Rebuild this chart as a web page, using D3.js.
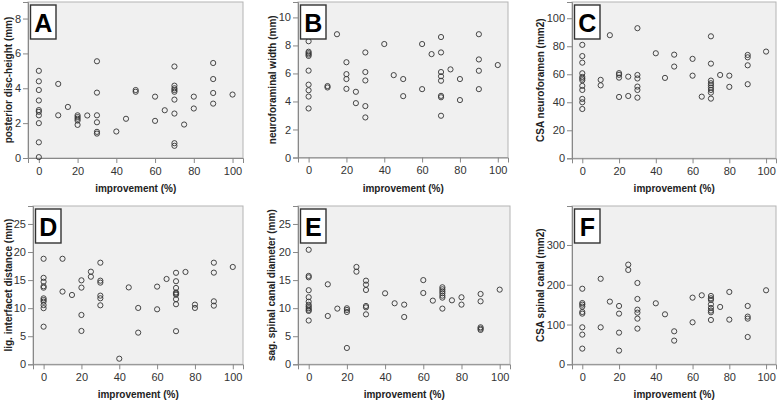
<!DOCTYPE html>
<html>
<head>
<meta charset="utf-8">
<script src="https://cdn.jsdelivr.net/npm/d3@7"></script>
<style>
  html, body { margin: 0; padding: 0; background: #fff; }
  svg { display: block; font-family: "Liberation Sans", Arial, sans-serif; }
</style>
</head>
<body>
<svg id="chart" width="778" height="402"></svg>
<script>
// ---------- data (improvement %, measured value) ----------
const improvementTicks = [0, 20, 40, 60, 80, 100];

const discHeightX = [0,0,0,0,0,0,0,0,0,0, 10,10, 15, 20,20,20,20,20, 25, 30,30,30,30,30,30, 40, 45, 50,50, 60,60, 65, 70,70,70,70,70,70,70,70,70, 75, 80,80, 90,90,90,90, 100];
const discHeightY = [5.0,4.4,3.9,3.3,2.75,2.65,2.45,2.0,0.9,0.05, 4.25,2.45, 2.93, 2.45,2.35,2.25,2.15,1.9, 2.44, 5.55,3.75,2.45,2.05,1.5,1.4, 1.52, 2.25, 3.9,3.8, 3.52,2.13, 2.74, 5.25,4.15,4.0,3.9,3.8,3.35,2.55,0.85,0.7, 1.92, 3.52,2.84, 5.45,4.53,3.73,3.12, 3.64];

const foramWidthX = [0,0,0,0,0,0,0,0,0,0, 10,10, 15, 20,20,20,20, 25,25, 30,30,30,30,30, 40, 45, 50,50, 60,60, 65, 70,70,70,70,70,70,70,70, 75, 80,80, 90,90,90,90, 100];
const foramWidthY = [8.3,7.55,7.45,7.35,7.25,6.2,5.2,4.8,4.35,3.5, 5.1,5.0, 8.8, 6.8,5.95,5.6,4.9, 4.69,3.88, 7.5,6.1,5.5,3.67,2.86, 8.1, 5.88, 5.6,4.38, 8.1,4.88, 7.38, 8.6,7.5,6.1,5.8,5.48,4.4,4.3,2.98, 6.29, 5.6,4.1, 8.8,7.0,6.19,4.88, 6.6];

const csaForamenX = [0,0,0,0,0,0,0,0,0,0,0,0, 10,10, 15, 20,20,20,20, 25,25, 30,30,30,30,30,30, 40, 45, 50,50, 60,60, 65, 70,70,70,70,70,70,70,70,70, 75, 80,80, 90,90,90,90, 100];
const csaForamenY = [81,73,68.3,60.7,58.1,56.9,55.7,51.7,48.8,42.4,40,35.2, 56,52.1, 87.9, 60.8,59.6,57.6,43.8, 58.3,44.5, 92.9,59.5,57,51.2,48.8,43.3, 75, 57.4, 74,65.5, 71,59, 44, 87.1,67.6,55.5,53.6,52.1,50.5,48.8,46.9,42.6, 59.5, 59,51, 73.8,72.1,66.4,52.9, 76.2];

const interfacetX = [0,0,0,0,0,0,0,0,0,0,0, 10,10, 15, 20,20,20,20, 25,25, 30,30,30,30,30,30, 40, 45, 50,50, 60,60, 65, 70,70,70,70,70,70,70,70,70, 75, 80,80, 90,90,90,90, 100];
const interfacetY = [18.8,15.4,14.7,13.9,13.65,11.75,11.45,11.15,10.55,10.0,6.7, 18.8,12.95, 12.35, 14.96,13.66,8.79,5.94, 16.5,15.6, 18.1,14.9,14.55,12.23,11.76,10.51, 1.0, 13.7, 10.04,5.64, 13.84,9.8, 15.2, 16.3,14.8,13.6,12.8,12.6,12.4,11.6,10.7,5.9, 16.45, 10.63,10.04, 18.1,16.33,11.22,10.45, 17.34];

const canalDiamX = [0,0,0,0,0,0,0,0,0,0,0,0, 10,10, 15, 20,20,20,20, 25,25, 30,30,30,30,30,30, 40, 45, 50,50, 60,60, 65, 70,70,70,70,70,70,70, 75, 80,80, 90,90,90,90,90, 100];
const canalDiamY = [20.4,15.75,15.5,13.2,11.95,11.15,10.6,10.3,10.0,9.7,9.5,7.8, 14.25,8.61, 9.92, 9.98,9.68,9.32,2.91, 17.34,16.5, 14.9,14.19,13.24,10.39,10.15,8.9, 12.65, 10.87, 10.63,8.43, 15.0,12.7, 11.34, 13.72,13.36,13.0,12.65,12.23,11.88,9.92, 11.4, 11.94,10.63, 12.53,11.22,6.59,6.35,6.12, 13.3];

const csaCanalX = [0,0,0,0,0,0,0,0,0, 10,10, 15, 20,20,20,20, 25,25, 30,30,30,30,30,30, 40, 45, 50,50, 60,60, 65, 70,70,70,70,70,70,70,70, 75, 80,80, 90,90,90,90, 100];
const csaCanalY = [190,154,150,145,131.6,127.4,93,74.6,39.4, 215,93, 157.6, 146.7,127.4,79.6,34.4, 250.6,237.2, 204.5,164.3,137.4,129.9,114.8,89.7, 153.4, 125.7, 83,59.5, 167.6,105.6, 173.5, 171.8,166,161.8,150.9,141.7,135,130.8,111.5, 144.2, 181.9,112.3, 146.7,119.9,114.8,68.7, 186.1];

const panelLetters = ["A", "B", "C", "D", "E", "F"];
const yTitles = ["posterior disc-height (mm)", "neuroforaminal width (mm)", "CSA neuroforamen (mm2)",
                 "lig. interfacet distance (mm)", "sag. spinal canal diameter (mm)", "CSA spinal canal (mm2)"];
const yTicksA = [0, 2, 4, 6, 8];
const yTicksB = [0, 2, 4, 6, 8, 10];
const yTicksC = [0, 20, 40, 60, 80, 100];
const yTicksD = [0, 5, 10, 15, 20, 25];
const yTicksE = [0, 5, 10, 15, 20, 25];
const yTicksF = [0, 100, 200, 300];
const yMax = [8.95, 11.1, 111.6, 28.2, 28.2, 398];
const xTitle = "improvement (%)";

// ---------- layout ----------
const panels = [
  { x: discHeightX, y: discHeightY, ticks: yTicksA, box: [28, 243, 2, 158], titleX: 8 },
  { x: foramWidthX, y: foramWidthY, ticks: yTicksB, box: [298, 508, 2, 157.5], titleX: 272 },
  { x: csaForamenX, y: csaForamenY, ticks: yTicksC, box: [572, 776, 2, 158.3], titleX: 540 },
  { x: interfacetX, y: interfacetY, ticks: yTicksD, box: [33, 243, 206, 364.3], titleX: 8 },
  { x: canalDiamX, y: canalDiamY, ticks: yTicksE, box: [298, 510, 206, 364.3], titleX: 271 },
  { x: csaCanalX, y: csaCanalY, ticks: yTicksF, box: [572, 776, 206, 364.3], titleX: 540 }
];

const svg = d3.select("#chart");

panels.forEach((p, i) => {
  const [L, R, T, B] = p.box;
  const xs = d3.scaleLinear().domain([-5.6, 105.4]).range([L, R]);
  const ys = d3.scaleLinear().domain([0, yMax[i]]).range([B, T]);
  const g = svg.append("g");

  g.append("rect").attr("x", L).attr("y", T).attr("width", R - L).attr("height", B - T)
    .attr("fill", "#f0f0f0").attr("stroke", "#b4b4b4").attr("stroke-width", 1);

  // y axis
  const yAxis = d3.axisLeft(ys).tickValues(p.ticks).tickSize(5).tickPadding(2).tickFormat(d3.format("d"));
  const ya = g.append("g").attr("transform", `translate(${L},0)`).call(yAxis);
  ya.select(".domain").attr("stroke", "#888");
  ya.selectAll(".tick line").attr("stroke", "#888");
  ya.selectAll("text").attr("fill", "#333").style("font-size", "11px");

  // x axis
  const xAxis = d3.axisBottom(xs).tickValues(improvementTicks).tickSize(5).tickPadding(4).tickFormat(d3.format("d"));
  const xa = g.append("g").attr("transform", `translate(0,${B})`).call(xAxis);
  xa.select(".domain").attr("stroke", "#888");
  xa.selectAll(".tick line").attr("stroke", "#888");
  xa.selectAll("text").attr("fill", "#333").style("font-size", "11px");

  // titles
  g.append("text").attr("x", (xs(0) + xs(100)) / 2).attr("y", B + 34)
    .attr("text-anchor", "middle").style("font-size", "10px").style("font-weight", "bold")
    .attr("fill", "#222").text(xTitle);
  g.append("text").attr("transform", `translate(${p.titleX},${(T + B) / 2}) rotate(-90)`)
    .attr("text-anchor", "middle").attr("dy", "0.35em").style("font-size", "10px").style("font-weight", "bold")
    .attr("fill", "#222").text(yTitles[i]);

  // points
  g.append("g").selectAll("circle").data(p.x.map((v, k) => [v, p.y[k]])).join("circle")
    .attr("cx", d => xs(d[0])).attr("cy", d => ys(d[1])).attr("r", 2.6)
    .attr("fill", "none").attr("stroke", "#333").attr("stroke-width", 0.9);

  // panel letter box
  const bx = L + 2.5, by = T + 3;
  g.append("rect").attr("x", bx).attr("y", by).attr("width", 25.5).attr("height", 34)
    .attr("fill", "#fff").attr("stroke", "#333").attr("stroke-width", 1.4);
  g.append("text").attr("x", bx + 12.8).attr("y", by + 26.5).attr("text-anchor", "middle")
    .style("font-size", "25px").style("font-weight", "bold").attr("fill", "#000").text(panelLetters[i]);
});
</script>
</body>
</html>
